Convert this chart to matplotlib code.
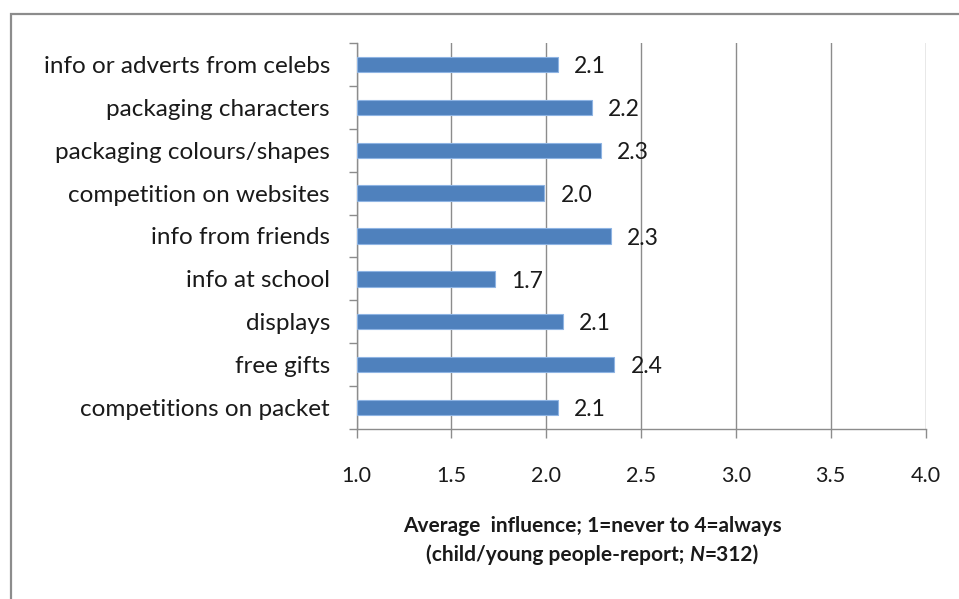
import matplotlib
matplotlib.use("Agg")
import matplotlib.pyplot as plt
from matplotlib.patches import Rectangle
from matplotlib.ticker import MultipleLocator
import numpy as np

plt.rcParams['font.family'] = ['Lato', 'DejaVu Sans']

# sources of influence, listed top to bottom
sources = [
    "info or adverts from celebs",
    "packaging characters",
    "packaging colours/shapes",
    "competition on websites",
    "info from friends",
    "info at school",
    "displays",
    "free gifts",
    "competitions on packet",
]
avg_influence = [2.06, 2.24, 2.29, 1.99, 2.34, 1.73, 2.09, 2.36, 2.06]

W, H = 959, 599
fig = plt.figure(figsize=(W / 100, H / 100), dpi=100)
fig.patch.set_facecolor("white")

# chart border (runs off the right and bottom edges)
fig.patches.append(Rectangle((11 / W, -0.05), 1.2, 1 - 14 / H + 0.05,
                             transform=fig.transFigure, fill=False,
                             edgecolor="#8c8c8c", linewidth=1.6, zorder=0))

ax = fig.add_axes([356.5 / W, 1 - 429 / H, (925.5 - 356.5) / W, (429 - 43) / H])

y = np.arange(len(sources))
ax.barh(y, np.array(avg_influence) - 1.0, left=1.0, height=0.36,
        color="#4f81bd", edgecolor="#8eb4e3", linewidth=0.8, zorder=3)

for yi, v in zip(y, avg_influence):
    ax.text(v + 0.085, yi + 0.05, f"{v:.1f}", va="center", ha="left",
            fontsize=16.5, color="#1a1a1a", zorder=4)

ax.set_xlim(1.0, 4.0)
ax.set_ylim(len(sources) - 0.5, -0.5)
ax.xaxis.set_major_locator(MultipleLocator(0.5))
ax.xaxis.set_major_formatter(plt.FuncFormatter(lambda v, p: f"{v:.1f}"))

ax.set_yticks(y)
ax.set_yticklabels(sources)
ax.set_yticks(np.arange(-0.5, len(sources)), minor=True)

ax.tick_params(axis="y", which="major", length=0, pad=19, labelsize=17.5,
               labelcolor="#1a1a1a")
ax.tick_params(axis="y", which="minor", length=6, width=1, color="#8c8c8c",
               direction="out")
ax.tick_params(axis="x", which="major", length=6.5, width=1, color="#8c8c8c",
               direction="out", pad=20, labelsize=15.5, labelcolor="#1a1a1a")

ax.grid(axis="x", color="#8c8c8c", linewidth=1, zorder=0)
ax.set_axisbelow(True)
for side in ("top", "right"):
    ax.spines[side].set_visible(False)
for side in ("left", "bottom"):
    ax.spines[side].set_color("#8c8c8c")
    ax.spines[side].set_linewidth(1)

# two-line axis title, second line with italic N
cx = 592 / W
fig.text(cx, 1 - 526 / H, "Average  influence; 1=never to 4=always",
         ha="center", va="center", fontsize=15, fontweight="bold",
         color="#1a1a1a")

parts = [("(child/young people-report; ", "normal"), ("N", "italic"),
         ("=312)", "normal")]
renderer = fig.canvas.get_renderer()
texts = []
for s, style in parts:
    t = fig.text(0, 1 - 555 / H, s, ha="left", va="center", fontsize=15,
                 fontweight="bold", fontstyle=style, color="#1a1a1a")
    texts.append(t)
widths = [t.get_window_extent(renderer).width for t in texts]
x0 = cx * W - sum(widths) / 2
for t, w in zip(texts, widths):
    t.set_x(x0 / W)
    x0 += w

fig.savefig("out.png", dpi=100, facecolor="white")
